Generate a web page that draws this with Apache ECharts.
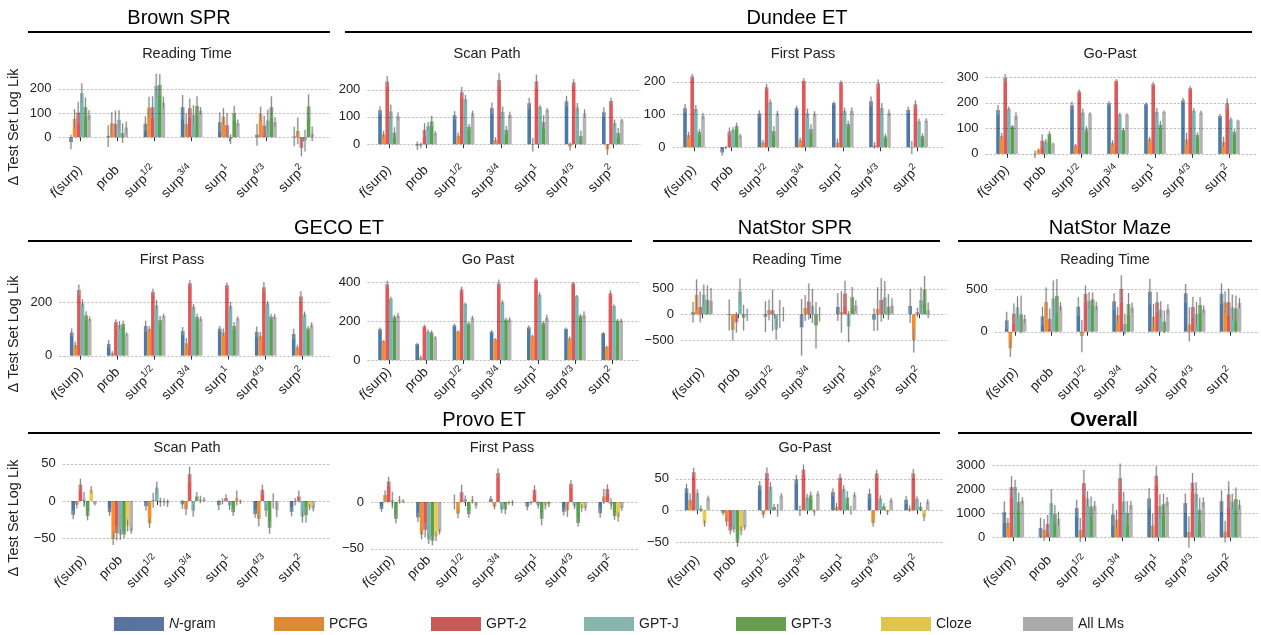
<!DOCTYPE html>
<html>
<head>
<meta charset="utf-8">
<title>Δ Test Set Log Lik by surprisal transform</title>
<script src="https://cdn.jsdelivr.net/npm/echarts@6/dist/echarts.min.js"></script>
<style>
  html, body { margin: 0; padding: 0; background: #fff; }
  #chart { width: 1261px; height: 635px; }
</style>
</head>
<body>
<div id="chart"></div>
<script>
// categories and models
const categories = ['f(surp)', 'prob', 'surp1/2', 'surp3/4', 'surp1', 'surp4/3', 'surp2'];
const categoryLabels = ['{i|f}{n|(surp)}', '{n|prob}', '{n|surp}{s|1/2}', '{n|surp}{s|3/4}', '{n|surp}{s|1}', '{n|surp}{s|4/3}', '{n|surp}{s|2}'];
const models = ['N-gram', 'PCFG', 'GPT-2', 'GPT-J', 'GPT-3', 'Cloze', 'All LMs'];
const barColors = ['#4e79a7', '#f28e2b', '#e15759', '#76b7b2', '#59a14f', '#edc948', '#b3b3b3'];
const legendColors = ['#5a74a0', '#dd8a36', '#c55a57', '#88b6ad', '#6a9c52', '#e0c64c', '#aaaaaa'];
const lmOnly = [0, 1, 2, 3, 4, 6];
const withCloze = [0, 1, 2, 3, 4, 5, 6];

// Brown SPR, reading time (rows: N-gram, PCFG, GPT-2, GPT-J, GPT-3, All LMs)
const brownRt = [
    [-20, 5, 56, 124, 62, 10, 3],
    [76, 58, 122, 54, 85, 96, 26],
    [102, 55, 124, 120, 50, 48, -44],
    [182, 72, 212, 92, -8, 69, -14],
    [124, 17, 216, 129, 99, 124, 127],
    [92, 40, 143, 109, 58, 63, 14]
];
const brownRtErr = [
    [30, 45, 30, 50, 40, 45, 40],
    [40, 45, 45, 45, 35, 30, 55],
    [45, 55, 45, 40, 50, 40, 35],
    [40, 40, 50, 40, 20, 45, 45],
    [40, 40, 45, 40, 30, 45, 50],
    [20, 25, 25, 15, 15, 20, 30]
];

// Dundee ET
const dundeeSp = [
    [124, -5, 106, 132, 150, 157, 117],
    [37, -4, 31, 16, -2, -8, -19],
    [229, 52, 190, 235, 230, 226, 158],
    [120, 66, 165, 118, 136, 134, 78],
    [42, 84, 64, 52, 81, 30, 41],
    [102, 40, 113, 107, 125, 113, 87]
];
const dundeeSpErr = [
    [15, 15, 15, 20, 20, 20, 18],
    [12, 10, 12, 10, 25, 15, 20],
    [20, 25, 20, 25, 25, 12, 12],
    [25, 15, 15, 20, 8, 17, 12],
    [20, 20, 10, 15, 25, 20, 18],
    [15, 8, 10, 12, 8, 15, 6]
];
const dundeeFp = [
    [119, -16, 103, 119, 135, 140, 114],
    [37, -1, 14, 21, 14, 6, -1],
    [216, 48, 183, 203, 198, 195, 131],
    [117, 53, 138, 104, 111, 120, 79],
    [47, 65, 49, 55, 71, 33, 34],
    [95, 35, 103, 102, 111, 105, 81]
];
const dundeeFpErr = [
    [13, 10, 10, 8, 5, 15, 10],
    [10, 5, 8, 8, 12, 10, 20],
    [8, 12, 10, 8, 6, 12, 12],
    [12, 8, 8, 14, 10, 15, 8],
    [8, 10, 15, 15, 10, 8, 8],
    [10, 6, 8, 8, 10, 10, 7]
];
const dundeeGp = [
    [171, -2, 190, 197, 195, 209, 148],
    [70, 16, 34, 43, 58, 57, 47],
    [297, 52, 244, 286, 273, 257, 197],
    [177, 48, 162, 155, 164, 169, 135],
    [108, 78, 96, 94, 114, 74, 86],
    [148, 40, 157, 153, 164, 161, 130]
];
const dundeeGpErr = [
    [20, 15, 15, 10, 6, 10, 8],
    [12, 5, 5, 10, 8, 25, 20],
    [15, 25, 8, 6, 8, 8, 20],
    [8, 10, 15, 6, 15, 10, 8],
    [5, 10, 12, 8, 15, 10, 10],
    [15, 4, 6, 6, 6, 8, 4]
];

// GECO ET
const gecoFp = [
    [87, 44, 111, 92, 101, 89, 81],
    [40, 9, 100, 46, 87, 74, 31],
    [246, 126, 239, 271, 264, 256, 222],
    [196, 115, 189, 184, 186, 196, 155],
    [151, 119, 134, 145, 111, 146, 102],
    [137, 81, 149, 137, 139, 146, 115]
];
const gecoFpErr = [
    [15, 15, 20, 15, 10, 20, 20],
    [12, 8, 10, 20, 15, 15, 10],
    [20, 10, 12, 12, 10, 20, 20],
    [15, 15, 20, 10, 15, 8, 10],
    [15, 12, 15, 12, 15, 10, 8],
    [10, 6, 8, 10, 8, 10, 10]
];
const gecoGp = [
    [158, 82, 178, 145, 167, 160, 138],
    [97, 13, 147, 107, 122, 112, 68],
    [388, 173, 362, 392, 412, 393, 342],
    [315, 145, 287, 297, 335, 328, 277],
    [222, 142, 187, 207, 190, 227, 202],
    [227, 115, 217, 207, 217, 230, 202]
];
const gecoGpErr = [
    [8, 6, 8, 8, 10, 6, 5],
    [5, 10, 5, 5, 8, 8, 5],
    [18, 8, 15, 20, 10, 8, 15],
    [10, 12, 8, 10, 12, 5, 8],
    [10, 10, 8, 10, 10, 8, 8],
    [15, 8, 10, 12, 15, 20, 10]
];

// NatStor SPR and Maze
const natSpr = [
    [40, -13, -45, -253, 143, -104, 162],
    [377, -305, 84, 123, 45, 104, -500],
    [143, -156, 78, 247, 403, 279, 39],
    [377, 442, -292, 162, -240, 325, 273],
    [280, -65, 5, -214, 331, 143, 474],
    [260, -10, 0, 0, 169, 169, 78]
];
const natSprErr = [
    [200, 300, 300, 550, 270, 220, 330],
    [300, 200, 200, 250, 400, 420, 240],
    [300, 200, 400, 350, 250, 420, 90],
    [200, 250, 200, 330, 300, 320, 250],
    [280, 250, 270, 450, 200, 250, 270],
    [250, 120, 140, 140, 100, 140, 150]
];
const natMaze = [
    [133, 180, 293, 355, 469, 449, 445],
    [-195, 348, -51, 195, 176, 86, 344],
    [211, 152, 441, 500, 344, 289, 344],
    [285, 390, 363, 90, 258, 207, 285],
    [203, 418, 379, 324, 117, 313, 273],
    [148, 297, 301, 281, 262, 262, 336]
];
const natMazeErr = [
    [100, 110, 110, 95, 150, 110, 120],
    [100, 170, 190, 95, 150, 200, 130],
    [120, 120, 100, 160, 120, 120, 160],
    [130, 210, 100, 120, 100, 140, 150],
    [220, 200, 80, 130, 130, 90, 150],
    [50, 50, 50, 60, 60, 45, 60]
];

// Provo ET (rows include Cloze before All LMs)
const provoSp = [
    [-18.5, -15, -7, -4.5, -5.5, -17.5, -14.5],
    [-5, -51, -30, -11, -0.5, -24, -1],
    [22, -43, 1, 36, 4, 15, 6],
    [2, -45, 18, -13, -6, -13, -21],
    [-20, -45, -1.5, 6, -15, -36, -19],
    [15, -33, -1.5, 2, 4, 0, -8.5],
    [-4, -40, -3, 2, -1, -12, -10]
];
const provoSpErr = [
    [6, 5, 6, 6, 7, 5, 6],
    [5, 8, 6, 8, 4, 10, 5],
    [8, 10, 10, 10, 5, 7, 8],
    [10, 7, 8, 8, 6, 8, 8],
    [6, 5, 6, 6, 5, 8, 10],
    [5, 8, 5, 5, 10, 10, 4],
    [2, 4, 5, 3, 3, 10, 4]
];
const provoFp = [
    [-7.5, -16.5, 0, 3.5, -5, -10.5, -12],
    [7.5, -35, -12.5, -5, -1, -9, 6],
    [22, -30, 10.5, 31, 13, 19.5, 14],
    [2, -40, 3, -8, -3, -4.5, -2],
    [-18, -41.5, -13, -8, -18, -22.5, -15],
    [2.5, -37, 2.5, -1, -4, -6.5, -16],
    [1, -32, -4, -1, -2.5, -6.5, -6.5]
];
const provoFpErr = [
    [3, 5, 8, 3, 4, 4, 5],
    [5, 5, 5, 3, 2, 7, 8],
    [5, 8, 8, 5, 5, 4, 5],
    [9, 5, 4, 4, 4, 3, 6],
    [5, 5, 4, 5, 7, 4, 4],
    [4, 5, 4, 2, 4, 4, 5],
    [2, 3, 3, 3, 3, 3, 3]
];
const provoGp = [
    [34.5, -4, 39, 48.5, 28.5, 26, 16.5],
    [16.5, -18, -7, -1, 5.5, -20, 2.5],
    [60, -32, 58.5, 64, 51.5, 58, 58],
    [27, -30, 37, 20, 33.5, 18.5, 18],
    [2.5, -50.5, 5, 23.5, 20, 6, 5.5],
    [-21, -32.5, 0, -3.5, 0, -3.5, -11],
    [19, -27, 23, 26, 24.5, 15.5, 13.5]
];
const provoGpErr = [
    [7, 4, 7, 7, 6, 8, 6],
    [10, 7, 5, 8, 6, 6, 5],
    [7, 6, 9, 8, 6, 6, 7],
    [6, 5, 7, 6, 6, 5, 4],
    [5, 7, 5, 6, 10, 5, 7],
    [5, 7, 10, 5, 7, 4, 6],
    [4, 4, 4, 4, 4, 4, 4]
];

// Overall
const overall = [
    [1040, 389, 1208, 944, 1611, 1417, 1500],
    [597, 306, 306, 736, 486, 222, 236],
    [2083, 556, 2250, 2458, 2556, 2264, 1778],
    [2083, 1417, 1611, 1486, 1292, 1806, 1486],
    [1472, 958, 1278, 1000, 1375, 1139, 1583],
    [1514, 764, 1306, 1333, 1472, 1458, 1347]
];
const overallErr = [
    [450, 420, 350, 450, 420, 400, 440],
    [200, 450, 500, 400, 500, 650, 450],
    [450, 380, 550, 600, 400, 400, 550],
    [300, 580, 300, 400, 500, 480, 320],
    [380, 380, 420, 500, 430, 500, 480],
    [150, 300, 200, 180, 200, 200, 200]
];

// y tick labels per panel
const ticks100 = [0, 100, 200];
const ticks300 = [0, 100, 200, 300];
const ticks200 = [0, 200];
const ticks400 = [0, 200, 400];
const ticks500pm = [-500, 0, 500];
const ticks500 = [0, 500];
const ticks50pm = [-50, 0, 50];
const ticks50neg = [-50, 0];
const ticks3000 = [0, 1000, 2000, 3000];

const BAR_W = 3.6;
const FONT = 'Liberation Sans';

// layout of each panel: first tick x, category spacing, row, y range
const ROWS = [{ top: 68, bottom: 159 }, { top: 274, bottom: 361 }, { top: 462, bottom: 549 }];
const panels = [
    { title: 'Reading Time', tx: 187, x0: 80, sp: 37.2, row: 0, min: -90, max: 286, mean: brownRt, err: brownRtErr, models: lmOnly, ticks: ticks100 },
    { title: 'Scan Path', tx: 487, x0: 389, sp: 37.3, row: 0, min: -54, max: 279, mean: dundeeSp, err: dundeeSpErr, models: lmOnly, ticks: ticks100 },
    { title: 'First Pass', tx: 803, x0: 694, sp: 37.2, row: 0, min: -36, max: 242, mean: dundeeFp, err: dundeeFpErr, models: lmOnly, ticks: ticks100 },
    { title: 'Go-Past', tx: 1110, x0: 1007, sp: 37.0, row: 0, min: -20, max: 336, mean: dundeeGp, err: dundeeGpErr, models: lmOnly, ticks: ticks300 },
    { title: 'First Pass', tx: 172, x0: 80.7, sp: 37.0, row: 1, min: -20, max: 306, mean: gecoFp, err: gecoFpErr, models: lmOnly, ticks: ticks200 },
    { title: 'Go Past', tx: 488, x0: 389, sp: 37.2, row: 1, min: -5, max: 441, mean: gecoGp, err: gecoGpErr, models: lmOnly, ticks: ticks400 },
    { title: 'Reading Time', tx: 797, x0: 702, sp: 36.2, row: 1, min: -905, max: 781, mean: natSpr, err: natSprErr, models: lmOnly, ticks: ticks500pm },
    { title: 'Reading Time', tx: 1105, x0: 1015.7, sp: 35.8, row: 1, min: -343, max: 676, mean: natMaze, err: natMazeErr, models: lmOnly, ticks: ticks500 },
    { title: 'Scan Path', tx: 187, x0: 84, sp: 36.4, row: 2, min: -64.5, max: 52.4, mean: provoSp, err: provoSpErr, models: withCloze, ticks: ticks50pm },
    { title: 'First Pass', tx: 502, x0: 392.3, sp: 36.45, row: 2, min: -50.5, max: 43, mean: provoFp, err: provoFpErr, models: withCloze, ticks: ticks50neg },
    { title: 'Go-Past', tx: 805, x0: 697.3, sp: 36.6, row: 2, min: -61, max: 76, mean: provoGp, err: provoGpErr, models: withCloze, ticks: ticks50pm },
    { title: '', tx: 0, x0: 1013.3, sp: 36.2, row: 2, min: -485, max: 3124, mean: overall, err: overallErr, models: lmOnly, ticks: ticks3000 }
];

// dataset headers: text, centre x, text y, line x1, line x2, line y, bold
const headers = [
    ['Brown SPR', 179, 18, 28, 330, 32, false],
    ['Dundee ET', 797, 18, 345, 1252, 32, false],
    ['GECO ET', 339, 228, 28, 632, 241, false],
    ['NatStor SPR', 795, 228, 653, 940, 241, false],
    ['NatStor Maze', 1110, 228, 958, 1252, 241, false],
    ['Provo ET', 484, 420, 28, 940, 433, false],
    ['Overall', 1104, 420, 958, 1252, 433, true]
];
const yLabelCenters = [127, 334, 518];
const legendLefts = [114, 274, 431, 584, 736, 881, 1023];

function fmtNum(v) {
    return v < 0 ? '\u2212' + Math.abs(v) : String(v);
}

function errorBars(nBars) {
    return function (params, api) {
        const cat = api.value(0);
        const mean = api.value(1);
        const err = api.value(2);
        const slot = api.value(3);
        const x = api.coord([cat, mean])[0] + (slot - (nBars - 1) / 2) * BAR_W;
        const y1 = api.coord([cat, mean - err])[1];
        const y2 = api.coord([cat, mean + err])[1];
        return {
            type: 'group',
            children: [
                { type: 'line', shape: { x1: x, y1: y1, x2: x, y2: y2 }, style: { stroke: 'rgba(205,205,205,0.5)', lineWidth: 2.4 } },
                { type: 'line', shape: { x1: x, y1: y1, x2: x, y2: y2 }, style: { stroke: 'rgba(100,100,100,0.75)', lineWidth: 1 } }
            ]
        };
    };
}

function gridLine(params, api) {
    const cs = params.coordSys;
    const y = Math.round(api.coord([0, api.value(1)])[1]) + 0.5;
    return {
        type: 'line',
        shape: { x1: cs.x - 3, y1: y, x2: cs.x + cs.width + 9, y2: y },
        style: { stroke: 'rgba(0,0,0,0.3)', lineWidth: 0.8, lineDash: [2.5, 1.5] }
    };
}

const grids = [], xAxes = [], yAxes = [], series = [], graphics = [];

panels.forEach((p, gi) => {
    const row = ROWS[p.row];
    grids.push({ left: p.x0 - p.sp / 2, top: row.top, width: p.sp * 7, height: row.bottom - row.top });
    xAxes.push({
        type: 'category', gridIndex: gi, data: categories,
        axisLine: { show: false },
        axisTick: { show: true, alignWithLabel: true, length: 4, lineStyle: { color: '#333' } },
        axisLabel: {
            interval: 0, rotate: 45, margin: 9,
            formatter: (v, i) => categoryLabels[i],
            rich: {
                n: { fontFamily: FONT, fontSize: 13.5, color: '#222', lineHeight: 19 },
                i: { fontFamily: FONT, fontSize: 13.5, color: '#222', fontStyle: 'italic', lineHeight: 19 },
                s: { fontFamily: FONT, fontSize: 9.5, color: '#222', verticalAlign: 'top', lineHeight: 10 }
            }
        },
        splitLine: { show: false }
    });
    yAxes.push({
        type: 'value', gridIndex: gi, min: p.min, max: p.max,
        axisLine: { show: false }, axisTick: { show: false }, splitLine: { show: false },
        axisLabel: {
            customValues: p.ticks, margin: 10,
            fontFamily: FONT, fontSize: 13, color: '#222',
            formatter: fmtNum
        }
    });

    const n = p.models.length;
    const errItems = [];
    p.mean.forEach((rowVals, k) => {
        const m = p.models[k];
        series.push({
            type: 'bar', name: models[m], xAxisIndex: gi, yAxisIndex: gi,
            data: rowVals, barWidth: BAR_W, barGap: '0%',
            itemStyle: { color: barColors[m] }, z: 2
        });
        rowVals.forEach((v, c) => errItems.push([c, v, p.err[k][c], k]));
    });
    series.push({
        type: 'custom', xAxisIndex: gi, yAxisIndex: gi, data: errItems,
        renderItem: errorBars(n), z: 3, silent: true, clip: false
    });
    series.push({
        type: 'custom', xAxisIndex: gi, yAxisIndex: gi, data: p.ticks.map(t => [0, t]),
        renderItem: gridLine, z: 4, silent: true, clip: false
    });

    if (p.title) {
        graphics.push({
            type: 'text', x: p.tx, y: row.top - 14,
            style: { text: p.title, font: '14.5px "Liberation Sans"', fill: '#222', align: 'center', verticalAlign: 'middle', textAlign: 'center', textVerticalAlign: 'middle' }
        });
    }
});

headers.forEach(h => {
    graphics.push({
        type: 'text', x: h[1], y: h[2],
        style: { text: h[0], font: (h[6] ? 'bold ' : '') + '20px "Liberation Sans"', fill: '#000', align: 'center', verticalAlign: 'middle', textAlign: 'center', textVerticalAlign: 'middle' }
    });
    graphics.push({
        type: 'line', shape: { x1: h[3], y1: h[5], x2: h[4], y2: h[5] },
        style: { stroke: '#000', lineWidth: 2.2 }
    });
});

yLabelCenters.forEach(cy => {
    graphics.push({
        type: 'text', x: 14, y: cy, rotation: Math.PI / 2,
        style: { text: '\u0394 Test Set Log Lik', font: '14.5px "Liberation Sans"', fill: '#222', align: 'center', verticalAlign: 'middle', textAlign: 'center', textVerticalAlign: 'middle' }
    });
});

const legends = models.map((name, m) => ({
    data: [{ name: name, itemStyle: { color: legendColors[m] } }],
    left: legendLefts[m], top: 617, padding: 0,
    icon: 'rect', itemWidth: 50, itemHeight: 14, selectedMode: false,
    formatter: nm => nm === 'N-gram' ? '{i|N}-gram' : nm,
    textStyle: {
        fontFamily: FONT, fontSize: 14, color: '#222',
        rich: { i: { fontFamily: FONT, fontSize: 14, color: '#222', fontStyle: 'italic' } }
    }
}));

const chart = echarts.init(document.getElementById('chart'));
chart.setOption({
    animation: false,
    backgroundColor: '#fff',
    grid: grids,
    xAxis: xAxes,
    yAxis: yAxes,
    legend: legends,
    graphic: graphics,
    series: series
});
</script>
</body>
</html>
